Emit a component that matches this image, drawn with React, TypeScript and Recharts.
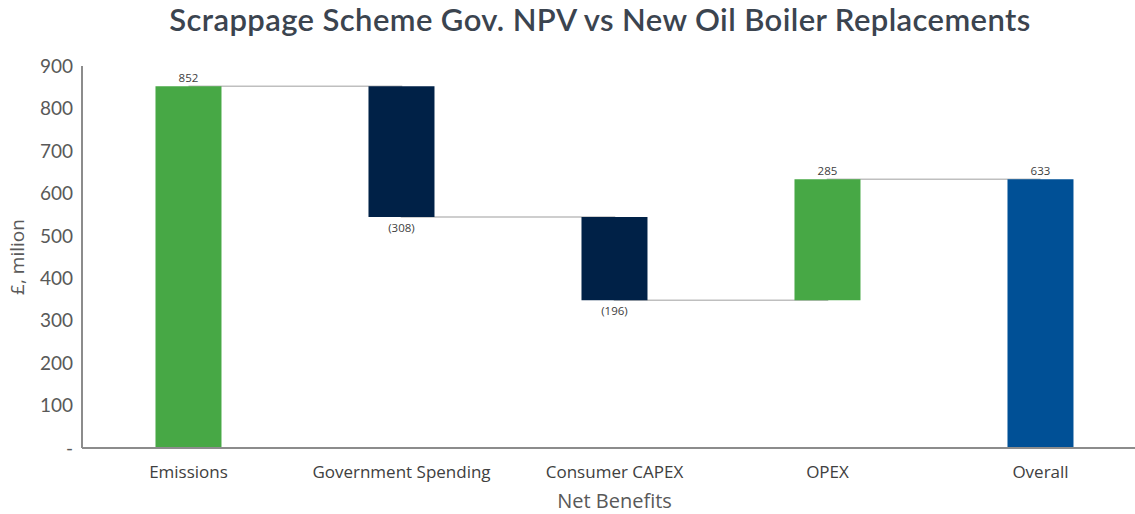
import { Bar, Cell, ComposedChart, LabelList, Line, XAxis, YAxis } from "recharts";

const categories = ["Emissions", "Government Spending", "Consumer CAPEX", "OPEX", "Overall"];
const changes = [852, -308, -196, 285, 633];
const isTotal = [false, false, false, false, true];
const yTicks = [0, 100, 200, 300, 400, 500, 600, 700, 800, 900];

const GREEN = "#47A845";
const NAVY = "#002147";
const BLUE = "#005096";

const TOP = 66;
const PLOT_H = 382;

// build the waterfall: invisible base + visible delta, plus running level for connectors
let running = 0;
const data = categories.map((name, i) => {
  const change = changes[i];
  let base: number;
  let level: number;
  if (isTotal[i]) {
    base = 0;
    level = change;
  } else {
    const next = running + change;
    base = Math.min(running, next);
    level = next;
    running = next;
  }
  return { name, base, delta: Math.abs(change), change, level, total: isTotal[i] };
});

const barColor = (d: { change: number; total: boolean }) =>
  d.total ? BLUE : d.change < 0 ? NAVY : GREEN;

const ValueLabel = (props: any) => {
  const vb = props.viewBox ?? props;
  const x = vb.x ?? props.x;
  const y = vb.y ?? props.y;
  const width = vb.width ?? props.width;
  const height = vb.height ?? props.height;
  const v = Number(props.value);
  const neg = v < 0;
  return (
    <text
      x={x + width / 2}
      y={neg ? y + height + 15 : y - 4}
      textAnchor="middle"
      fontSize={11.5}
      fontFamily="'Open Sans', sans-serif"
      fill="#404040"
    >
      {neg ? `(${-v})` : v}
    </text>
  );
};

const YLabel = () => {
  const cx = 17;
  const cy = TOP + PLOT_H / 2;
  return (
    <text
      x={cx}
      y={cy}
      transform={`rotate(-90, ${cx}, ${cy})`}
      textAnchor="middle"
      dominantBaseline="central"
      fontSize={19}
      fontFamily="'Open Sans', sans-serif"
      fill="#595959"
    >
      £, milion
    </text>
  );
};

const XLabel = (props: any) => {
  const vb = props.viewBox;
  return (
    <text
      x={vb.x + vb.width / 2}
      y={508}
      textAnchor="middle"
      fontSize={20}
      fontFamily="'Open Sans', sans-serif"
      fill="#595959"
    >
      Net Benefits
    </text>
  );
};

export default function App() {
  return (
    <div
      style={{
        position: "absolute",
        left: 0,
        top: 0,
        width: 1135,
        height: 514,
        overflow: "hidden",
        background: "#fff",
      }}
    >
      <div
        style={{
          position: "absolute",
          left: 65,
          top: 0,
          width: 1070,
          textAlign: "center",
          fontFamily: "Lato, sans-serif",
          fontWeight: 600,
          fontSize: 31,
          letterSpacing: 0.4,
          lineHeight: "normal",
          color: "#3B444F",
        }}
      >
        Scrappage Scheme Gov. NPV vs New Oil Boiler Replacements
      </div>
      <ComposedChart
        width={1147}
        height={514}
        data={data}
        margin={{ top: TOP, right: 0, bottom: 36, left: 0 }}
        barCategoryGap="34.5%"
      >
        <XAxis
          dataKey="name"
          height={30}
          tickLine={false}
          tickMargin={12}
          axisLine={{ stroke: "#8C8C8C", strokeWidth: 2 }}
          tick={{ fontSize: 17, fontFamily: "'Open Sans', sans-serif", fill: "#404040" }}
          label={<XLabel />}
        />
        <YAxis
          width={82}
          domain={[0, 900]}
          ticks={yTicks}
          tickLine={false}
          tickMargin={3}
          axisLine={{ stroke: "#8C8C8C", strokeWidth: 2 }}
          tickFormatter={(v: number) => (v === 0 ? "-" : String(v))}
          tick={{ fontSize: 19, fontFamily: "Lato, sans-serif", fill: "#595959" }}
          label={<YLabel />}
        />
        <Line
          dataKey="level"
          type="stepAfter"
          stroke="#BFBFBF"
          strokeWidth={1.5}
          dot={false}
          activeDot={false}
          isAnimationActive={false}
          zIndex={250}
        />
        <Bar dataKey="base" stackId="w" fill="transparent" isAnimationActive={false} />
        <Bar dataKey="delta" stackId="w" isAnimationActive={false}>
          {data.map((d) => (
            <Cell key={d.name} fill={barColor(d)} />
          ))}
          <LabelList dataKey="change" content={<ValueLabel />} />
        </Bar>
      </ComposedChart>
    </div>
  );
}
